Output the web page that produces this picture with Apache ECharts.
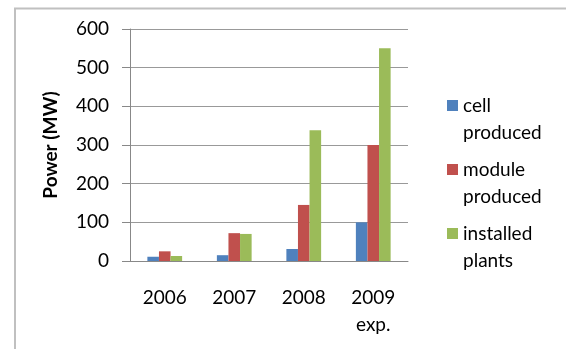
<!DOCTYPE html>
<html>
<head>
<meta charset="utf-8">
<script src="https://cdn.jsdelivr.net/npm/echarts@6/dist/echarts.min.js"></script>
<style>
html,body{margin:0;padding:0;background:#fff;}
#c{width:566px;height:349px;}
</style>
</head>
<body>
<div id="c"></div>
<script>
const categories = ['2006', '2007', '2008', '2009\nexp.'];
const seriesNames = ['cell\nproduced', 'module\nproduced', 'installed\nplants'];
const cellProduced = [11, 15, 31, 100];
const moduleProduced = [25, 72, 145, 300];
const installedPlants = [13, 70, 338, 550];
const yTicks = { min: 0, max: 600, interval: 100 };
const colors = ['#4F81BD', '#C0504D', '#9BBB59'];

const FONT = 'Lato';
const chart = echarts.init(document.getElementById('c'), null, { renderer: 'canvas' });
const values = [cellProduced, moduleProduced, installedPlants];

chart.setOption({
  animation: false,
  textStyle: { fontFamily: FONT },
  graphic: [{
    type: 'polyline',
    shape: { points: [[15, 349], [15, 8.5], [566, 8.5]] },
    style: { stroke: '#c0c0c0', lineWidth: 2, fill: null },
    silent: true
  }],
  grid: { left: 130, right: 158, top: 29, bottom: 88 },
  legend: {
    orient: 'vertical',
    left: 442,
    top: 60,
    itemWidth: 11,
    itemHeight: 11,
    itemGap: -17,
    icon: 'rect',
    data: seriesNames,
    formatter: function (name) { return '\u00a0\n' + name; },
    textStyle: {
      fontFamily: FONT, fontSize: 19, color: '#000', lineHeight: 27
    }
  },
  xAxis: {
    type: 'category',
    data: categories,
    axisLine: { lineStyle: { color: '#888', width: 1 } },
    axisTick: { show: false },
    axisLabel: { fontFamily: FONT, fontSize: 19, color: '#000', lineHeight: 27, margin: 23 }
  },
  yAxis: {
    type: 'value',
    min: yTicks.min, max: yTicks.max, interval: yTicks.interval,
    name: 'Power (MW)',
    nameLocation: 'middle',
    nameGap: 70,
    nameTextStyle: { fontFamily: FONT, fontSize: 19, fontWeight: 'bold', color: '#000' },
    axisLine: { show: true, lineStyle: { color: '#888', width: 1 } },
    axisTick: { show: true, length: 8, lineStyle: { color: '#888' } },
    splitLine: { lineStyle: { color: '#999', width: 1 } },
    axisLabel: { fontFamily: FONT, fontSize: 19, color: '#000', margin: 21 }
  },
  series: seriesNames.map((n, i) => ({
    name: n,
    type: 'bar',
    data: values[i],
    itemStyle: { color: colors[i] },
    barGap: '0%',
    barCategoryGap: '50%'
  }))
});
</script>
</body>
</html>
